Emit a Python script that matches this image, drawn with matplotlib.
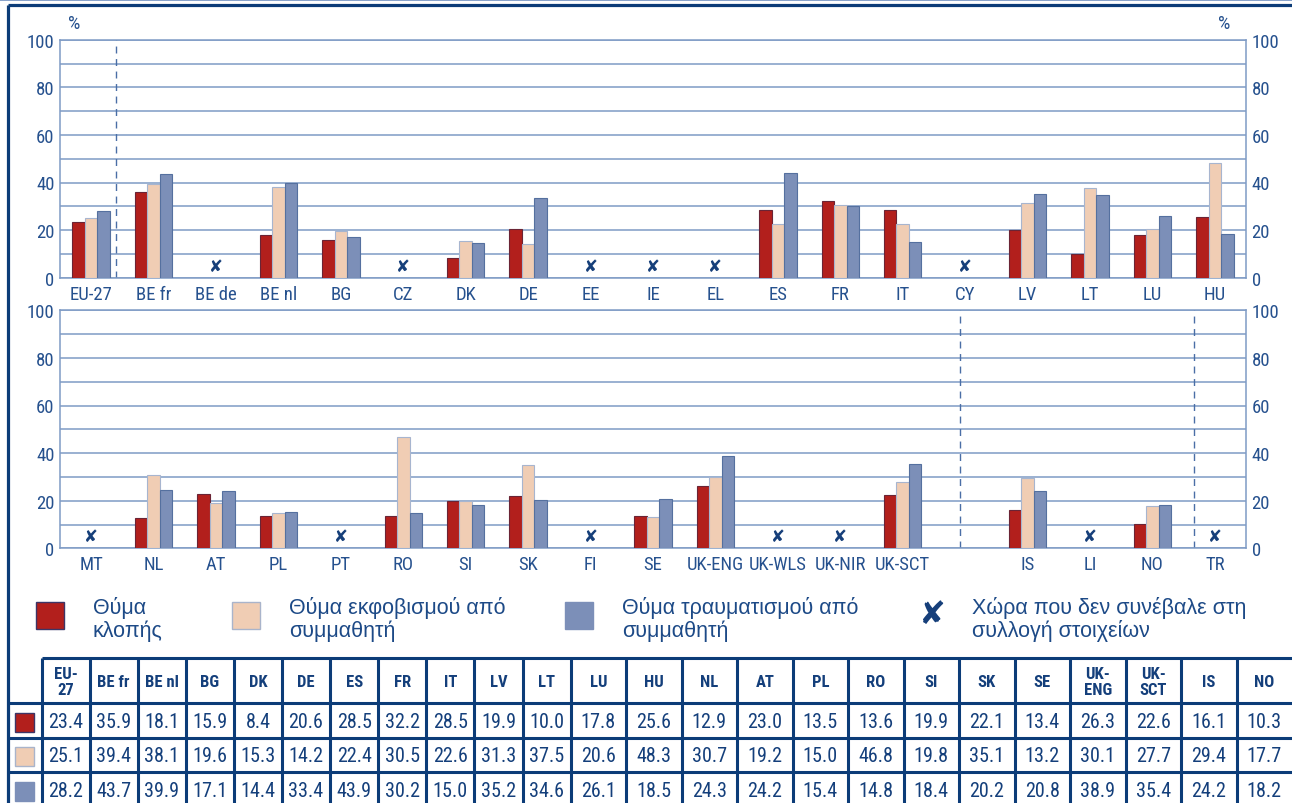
import numpy as np
import matplotlib
matplotlib.use("Agg")
import matplotlib.pyplot as plt
from matplotlib import font_manager as fm
from matplotlib.patches import Rectangle

# ---------------------------------------------------------------- data
table_countries = ["EU-27", "BE fr", "BE nl", "BG", "DK", "DE", "ES", "FR", "IT",
                   "LV", "LT", "LU", "HU", "NL", "AT", "PL", "RO", "SI", "SK",
                   "SE", "UK-ENG", "UK-SCT", "IS", "NO"]
table_headers = ["EU-\n27", "BE fr", "BE nl", "BG", "DK", "DE", "ES", "FR", "IT",
                 "LV", "LT", "LU", "HU", "NL", "AT", "PL", "RO", "SI", "SK",
                 "SE", "UK-\nENG", "UK-\nSCT", "IS", "NO"]
theft = [23.4, 35.9, 18.1, 15.9, 8.4, 20.6, 28.5, 32.2, 28.5, 19.9, 10.0, 17.8,
         25.6, 12.9, 23.0, 13.5, 13.6, 19.9, 22.1, 13.4, 26.3, 22.6, 16.1, 10.3]
bullying = [25.1, 39.4, 38.1, 19.6, 15.3, 14.2, 22.4, 30.5, 22.6, 31.3, 37.5, 20.6,
            48.3, 30.7, 19.2, 15.0, 46.8, 19.8, 35.1, 13.2, 30.1, 27.7, 29.4, 17.7]
injury = [28.2, 43.7, 39.9, 17.1, 14.4, 33.4, 43.9, 30.2, 15.0, 35.2, 34.6, 26.1,
          18.5, 24.3, 24.2, 15.4, 14.8, 18.4, 20.2, 20.8, 38.9, 35.4, 24.2, 18.2]

top_countries = ["EU-27", "BE fr", "BE de", "BE nl", "BG", "CZ", "DK", "DE", "EE",
                 "IE", "EL", "ES", "FR", "IT", "CY", "LV", "LT", "LU", "HU"]
bottom_countries = ["MT", "NL", "AT", "PL", "PT", "RO", "SI", "SK", "FI", "SE",
                    "UK-ENG", "UK-WLS", "UK-NIR", "UK-SCT", "", "IS", "LI", "NO", "TR"]
top_dividers = [0.40]
bottom_dividers = [13.92, 17.66]

series_labels = ["Θύμα\nκλοπής", "Θύμα εκφοβισμού από\nσυμμαθητή",
                 "Θύμα τραυματισμού από\nσυμμαθητή"]
missing_label = "Χώρα που δεν συνέβαλε στη\nσυλλογή στοιχείων"

y_ticks = [0, 20, 40, 60, 80, 100]
y_grid = [10, 30, 50, 70, 90]

# ---------------------------------------------------------------- style
available = {f.name for f in fm.fontManager.ttflist}


def first_font(*names):
    for n in names:
        if n in available:
            return n
    return "DejaVu Sans"


COND = first_font("Roboto Condensed", "Open Sans Condensed", "Liberation Sans Narrow",
                  "DejaVu Sans Condensed", "Liberation Sans")
NARROW = first_font("Liberation Sans Narrow", "Roboto Condensed",
                    "DejaVu Sans Condensed", "Liberation Sans")
SANS = first_font("Liberation Sans", "Arimo", "DejaVu Sans")

plt.rcParams["font.family"] = [COND, "DejaVu Sans"]

fills = ["#b21f1c", "#f0cdb4", "#7c8fb8"]
edges = ["#6a2435", "#a7b5cf", "#55709f"]
grid_c = "#7f9bc5"
label_c = "#26518e"
navy = "#0c3c78"
mark_c = "#163f7a"

W, H = 1292, 804
fig = plt.figure(figsize=(W / 100, H / 100), dpi=100)
fig.patch.set_facecolor("white")

lookup = {c: i for i, c in enumerate(table_countries)}
series = [theft, bullying, injury]
bar_w = 0.2


def panel(rect, countries, dividers):
    ax = fig.add_axes(rect, zorder=2)
    ax.set_facecolor("none")
    n = len(countries)
    for k, (vals, fc, ec) in enumerate(zip(series, fills, edges)):
        xs, hs = [], []
        for i, c in enumerate(countries):
            if c in lookup:
                xs.append(i + (k - 1) * bar_w)
                hs.append(vals[lookup[c]])
        ax.bar(xs, hs, width=bar_w, color=fc, edgecolor=ec, linewidth=0.8, zorder=3)
    for i, c in enumerate(countries):
        if c and c not in lookup:
            ax.text(i, 5, "\u2718", ha="center", va="center", fontsize=12,
                    color=mark_c, family="DejaVu Sans", zorder=4)
    for d in dividers:
        ax.axvline(d, color="#4a6ea6", lw=1.0, ls=(0, (5, 4)), zorder=2)
    ax.set_xlim(-0.5, n - 0.5)
    ax.set_ylim(0, 100)
    ax.set_xticks(np.arange(n))
    ax.set_xticklabels(countries, fontsize=13.5, color=label_c)
    ax.set_yticks(y_ticks)
    ax.set_yticks(y_grid, minor=True)
    ax.set_yticklabels([str(t) for t in y_ticks], fontsize=13.5, color=label_c)
    ax.tick_params(axis="both", which="both", length=0)
    ax.tick_params(axis="x", pad=5)
    ax.tick_params(axis="y", pad=4, labelright=True)
    ax.grid(axis="y", which="both", color=grid_c, lw=1.1, zorder=1)
    for s in ax.spines.values():
        s.set_color(grid_c)
        s.set_linewidth(1.1)
    return ax


left, right = 60 / W, 1246 / W
ph = 238 / H
panel([left, 1 - 278.7 / H, right - left, ph], top_countries, top_dividers)
panel([left, 1 - 549.3 / H, right - left, ph], bottom_countries, bottom_dividers)

# ---------------------------------------------------------------- frame, legend, table
ov = fig.add_axes([0, 0, 1, 1], zorder=1)
ov.set_xlim(0, W)
ov.set_ylim(H, 0)
ov.axis("off")

ov.plot([0, W], [0.8, 0.8], color="#7391c0", lw=1.2, solid_capstyle="butt")
ov.plot([7.5, W], [5.5, 5.5], color=navy, lw=2.3, solid_capstyle="butt")
ov.plot([7.5, 7.5], [5.5, H + 5], color=navy, lw=2.3, solid_capstyle="butt")

ov.text(74.5, 24, "%", ha="center", va="center", fontsize=14, color=label_c)
ov.text(1224, 24, "%", ha="center", va="center", fontsize=14, color=label_c)

# legend
leg_sq_x = [36, 232, 565]
leg_txt_x = [93, 289, 622]
leg_sq_edge = ["#3d3566", "#a9b4cb", "#7c8fb8"]
for sx, tx, fc, ec, lab in zip(leg_sq_x, leg_txt_x, fills, leg_sq_edge, series_labels):
    ov.add_patch(Rectangle((sx, 603), 28, 27, facecolor=fc, edgecolor=ec, lw=1.0))
    ov.text(tx, 619.5, lab, ha="left", va="center", fontsize=15.5, color="#1d4a87",
            family=SANS, linespacing=1.1)
ov.text(931, 616, "\u2718", ha="center", va="center", fontsize=23, color=mark_c,
        family="DejaVu Sans")
ov.text(972, 619.5, missing_label, ha="left", va="center", fontsize=15.5,
        color="#1d4a87", family=SANS, linespacing=1.1)

# table
col_edges = [41.5 + 48.1 * i for i in range(12)]
wide = (W - col_edges[-1]) / 13
col_edges += [col_edges[-1] + wide * j for j in range(1, 14)]
row_edges = [659, 704, 738.5, 773, 808]
tw = 2.2
ov.plot([col_edges[0], W], [row_edges[0]] * 2, color=navy, lw=tw, solid_capstyle="butt")
for y in row_edges[1:]:
    ov.plot([7.5, W], [y, y], color=navy, lw=tw, solid_capstyle="butt")
for x in col_edges[:-1]:
    ov.plot([x, x], [row_edges[0], H + 5], color=navy, lw=tw, solid_capstyle="butt")

tcol = "#143f7b"
for j, head in enumerate(table_headers):
    cx = (col_edges[j] + col_edges[j + 1]) / 2
    ov.text(cx, (row_edges[0] + row_edges[1]) / 2 + 1, head, ha="center", va="center",
            fontsize=12, fontweight="bold", color=tcol, family=NARROW, linespacing=1.05)
    for r, vals in enumerate(series):
        cy = (row_edges[r + 1] + row_edges[r + 2]) / 2 + 1
        ov.text(cx, cy, f"{vals[j]:.1f}", ha="center", va="center", fontsize=14.5,
                color=tcol, family=NARROW)

row_sq_edge = ["#3d3566", "#a9b4cb", "#7c8fb8"]
for r, (fc, ec) in enumerate(zip(fills, row_sq_edge)):
    cy = (row_edges[r + 1] + row_edges[r + 2]) / 2 + 2
    ov.add_patch(Rectangle((15, cy - 9.5), 19, 19, facecolor=fc, edgecolor=ec, lw=1.0))

fig.savefig("out.png", dpi=100)
